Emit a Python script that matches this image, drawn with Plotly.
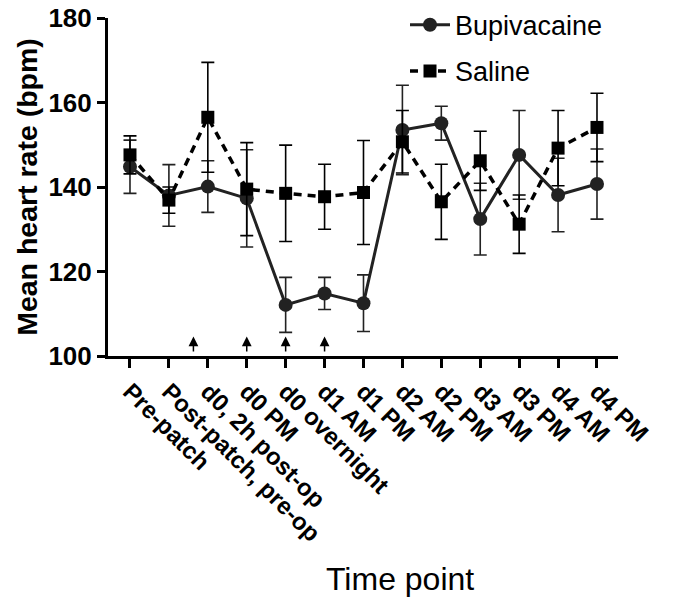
import plotly.graph_objects as go

categories = ["Pre-patch", "Post-patch, pre-op", "d0, 2h post-op", "d0 PM", "d0 overnight",
              "d1 AM", "d1 PM", "d2 AM", "d2 PM", "d3 AM", "d3 PM", "d4 AM", "d4 PM"]
bupivacaine_mean = [144.8, 138.0, 140.1, 137.3, 112.1, 114.8, 112.5, 153.5, 155.1, 132.4, 147.6, 138.1, 140.7]
bupivacaine_err = [6.3, 7.3, 6.1, 11.5, 6.5, 3.8, 6.7, 10.6, 4.0, 8.5, 10.5, 8.7, 8.3]
saline_mean = [147.6, 136.9, 156.5, 139.5, 138.5, 137.7, 138.7, 150.7, 136.5, 146.2, 131.2, 149.2, 154.1]
saline_err = [4.5, 3.1, 13.0, 11.0, 11.4, 7.7, 12.3, 7.4, 8.9, 7.0, 6.9, 8.9, 8.1]
arrow_positions = [1.63, 3, 4, 5]
y_ticks = [100, 120, 140, 160, 180]

FONT = "Liberation Sans, Arial, sans-serif"

fig = go.Figure()
fig.add_trace(go.Scatter(
    x=categories, y=bupivacaine_mean, name="Bupivacaine", mode="lines+markers", legendgroup="b",
    line=dict(color="#222222", width=3),
    marker=dict(symbol="circle", size=14, color="#222222"),
    error_y=dict(type="data", array=bupivacaine_err, visible=True, color="#222222", thickness=1.6, width=6.5),
))
fig.add_trace(go.Scatter(
    x=categories, y=saline_mean, name="Saline", mode="lines+markers", legendgroup="s",
    line=dict(color="#000000", width=3.5, dash="8px,6px"),
    marker=dict(symbol="square", size=13, color="#000000"),
    error_y=dict(type="data", array=saline_err, visible=True, color="#000000", thickness=1.6, width=6.5),
))

for xp in arrow_positions:
    fig.add_annotation(x=xp, y=104.6, ax=xp, ay=100.7, xref="x", yref="y", axref="x", ayref="y",
                       text="", showarrow=True, arrowhead=2, arrowsize=1.3, arrowwidth=1.5,
                       arrowcolor="#000000")

# x-axis title placed as in the reference (offset to the right of the axis centre)
fig.add_annotation(text="Time point", x=0.5725, y=-0.661, xref="paper", yref="paper",
                   xanchor="center", yanchor="middle", showarrow=False,
                   font=dict(size=32, family=FONT, color="#000000"))

fig.update_layout(
    width=673, height=597,
    margin=dict(l=108, r=55, t=18, b=241, autoexpand=False),
    paper_bgcolor="white", plot_bgcolor="white",
    font=dict(family=FONT, color="#000000"),
    showlegend=True,
    legend=dict(x=(405 - 108) / 510, y=1.051, xanchor="left", yanchor="top",
                font=dict(size=27, family=FONT), bgcolor="rgba(0,0,0,0)",
                tracegroupgap=8, itemwidth=40),
    xaxis=dict(
        type="category", range=[-0.565, 12.54], automargin=False,
        showline=True, linecolor="#000000", linewidth=3,
        ticks="outside", ticklen=9, tickwidth=3, tickcolor="#000000",
        tickangle=45, tickfont=dict(size=24, family=FONT, weight="bold"),
        showgrid=False, zeroline=False,
    ),
    yaxis=dict(
        range=[100, 180], tickvals=y_ticks, automargin=False, ticklabeloverflow="allow",
        showline=True, linecolor="#000000", linewidth=3,
        ticks="outside", ticklen=8, tickwidth=3, tickcolor="#000000",
        tickfont=dict(size=26, family=FONT, weight="bold"),
        showgrid=False, zeroline=False,
        title=dict(text="Mean heart rate (bpm)", font=dict(size=28.5, family=FONT, weight="bold"), standoff=3),
    ),
)

fig.write_html("out.html", config={"displayModeBar": False},
               post_script="document.body.style.margin='0';")
